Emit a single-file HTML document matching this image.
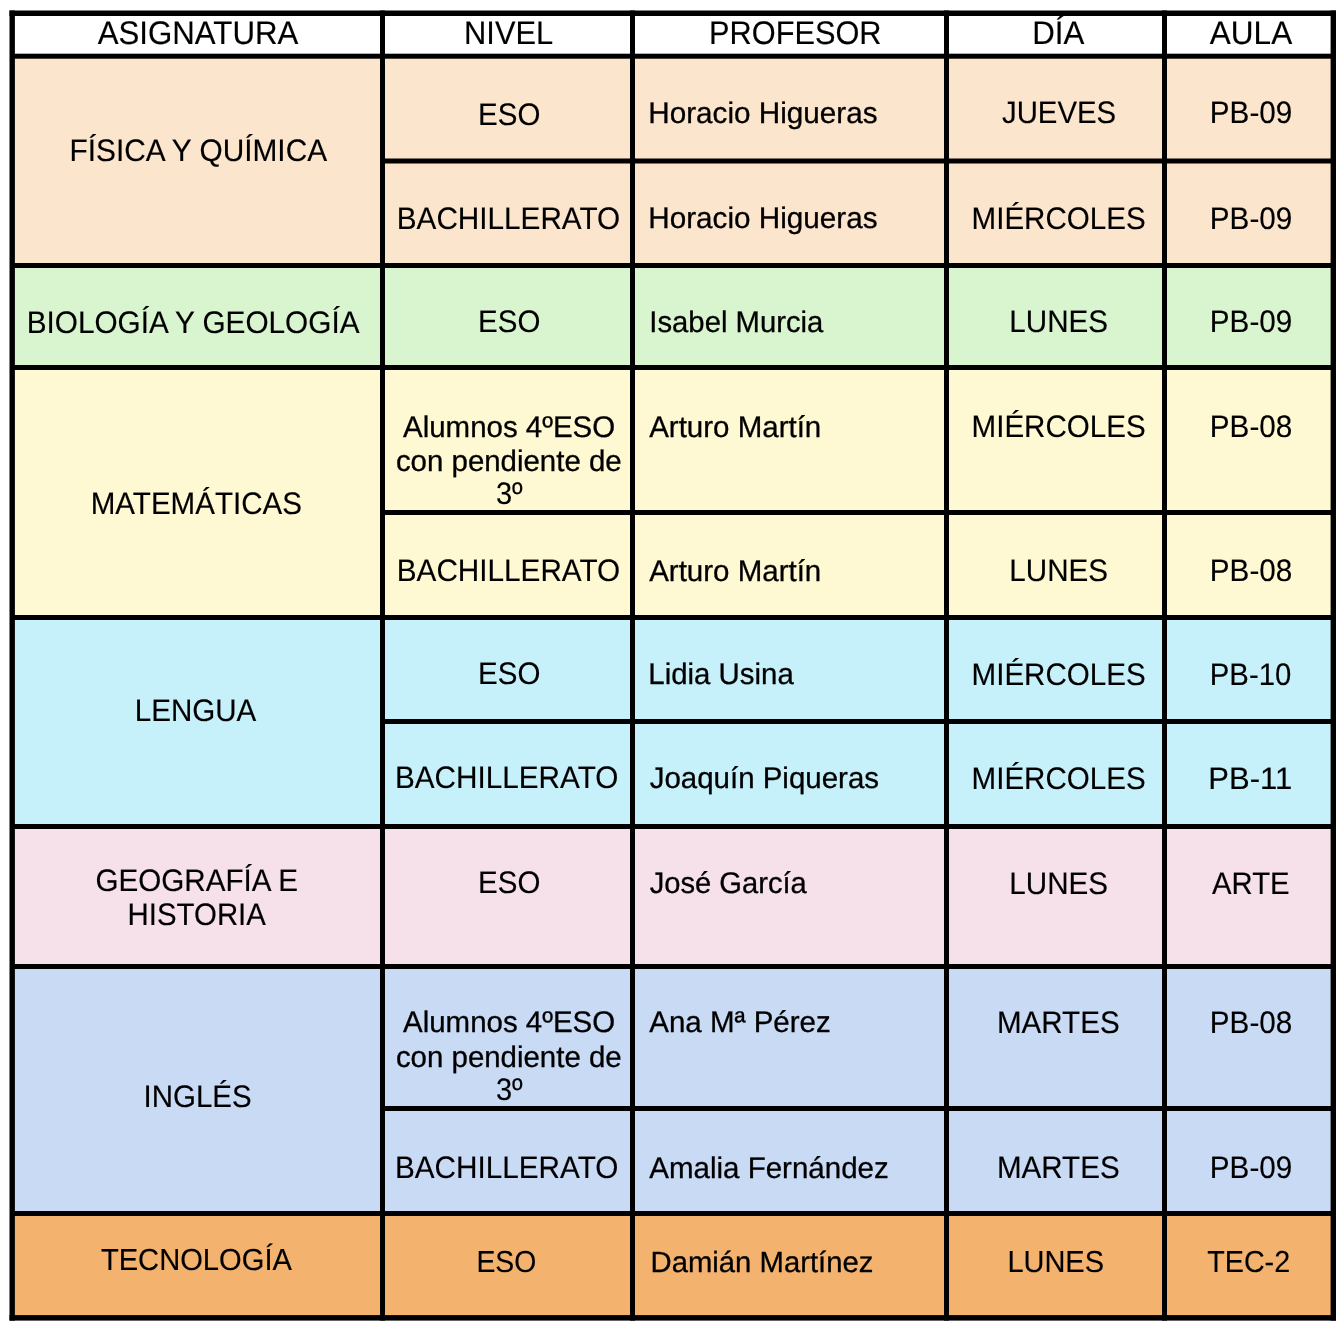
<!DOCTYPE html>
<html lang="es">
<head>
<meta charset="utf-8">
<title>Horario de pendientes</title>
<style>
html,body{margin:0;padding:0;background:#fff;}
body{width:1341px;height:1329px;overflow:hidden;}
svg{display:block;will-change:transform;}
text{font-family:"Liberation Sans",Arial,Helvetica,sans-serif;fill:#000;stroke:#000;text-rendering:geometricPrecision;}
</style>
</head>
<body>
<svg width="1341" height="1329" viewBox="0 0 1341 1329">
<rect x="0" y="0" width="1341" height="1329" fill="#ffffff"/>
<rect x="12" y="56" width="1322" height="209" fill="#fce5cd"/>
<rect x="12" y="265" width="1322" height="102" fill="#d9f5d0"/>
<rect x="12" y="367" width="1322" height="250" fill="#fff9d3"/>
<rect x="12" y="617" width="1322" height="209" fill="#c6f1fb"/>
<rect x="12" y="826" width="1322" height="140" fill="#f6e1ea"/>
<rect x="12" y="966" width="1322" height="247" fill="#c9daf5"/>
<rect x="12" y="1213" width="1322" height="104" fill="#f4b26f"/>
<g fill="#000000">
<rect x="9.5" y="10.5" width="5.4" height="1310.1"/>
<rect x="1330.6" y="10.5" width="5.4" height="1310.1"/>
<rect x="9.5" y="10.5" width="1326.5" height="5.5"/>
<rect x="9.5" y="1315.1" width="1326.5" height="5.5"/>
<rect x="380" y="10.5" width="5" height="1310.1"/>
<rect x="630" y="10.5" width="5" height="1310.1"/>
<rect x="944" y="10.5" width="5" height="1310.1"/>
<rect x="1162" y="10.5" width="5" height="1310.1"/>
<rect x="10" y="53.7" width="1326" height="5"/>
<rect x="380" y="158.5" width="956" height="5"/>
<rect x="10" y="263" width="1326" height="5"/>
<rect x="10" y="365" width="1326" height="5"/>
<rect x="380" y="510" width="956" height="5"/>
<rect x="10" y="615" width="1326" height="5"/>
<rect x="380" y="719" width="956" height="5"/>
<rect x="10" y="824" width="1326" height="5"/>
<rect x="10" y="964" width="1326" height="5"/>
<rect x="380" y="1106" width="956" height="5"/>
<rect x="10" y="1211" width="1326" height="5"/>
</g>
<text x="97.70" y="43.5" font-size="32.7" stroke-width="0.15" textLength="200.61" lengthAdjust="spacingAndGlyphs">ASIGNATURA</text>
<text x="464.11" y="43.5" font-size="32.7" stroke-width="0.15" textLength="89.05" lengthAdjust="spacingAndGlyphs">NIVEL</text>
<text x="709.12" y="43.5" font-size="32.7" stroke-width="0.15" textLength="172.45" lengthAdjust="spacingAndGlyphs">PROFESOR</text>
<text x="1032.29" y="43.5" font-size="32.7" stroke-width="0.15" textLength="52.12" lengthAdjust="spacingAndGlyphs">DÍA</text>
<text x="1209.80" y="43.5" font-size="32.7" stroke-width="0.15" textLength="82.41" lengthAdjust="spacingAndGlyphs">AULA</text>
<text x="478.10" y="124.9" font-size="31.03" stroke-width="0.15" textLength="62.27" lengthAdjust="spacingAndGlyphs">ESO</text>
<text x="648.31" y="122.5" font-size="29.85" stroke-width="0.3" textLength="229.20" lengthAdjust="spacingAndGlyphs">Horacio Higueras</text>
<text x="1002.00" y="122.9" font-size="31.03" stroke-width="0.15" textLength="114.05" lengthAdjust="spacingAndGlyphs">JUEVES</text>
<text x="1209.79" y="122.9" font-size="31.03" stroke-width="0.15" textLength="82.51" lengthAdjust="spacingAndGlyphs">PB-09</text>
<text x="396.78" y="228.6" font-size="31.03" stroke-width="0.15" textLength="223.39" lengthAdjust="spacingAndGlyphs">BACHILLERATO</text>
<text x="648.31" y="228.2" font-size="29.85" stroke-width="0.3" textLength="229.20" lengthAdjust="spacingAndGlyphs">Horacio Higueras</text>
<text x="971.59" y="228.6" font-size="31.03" stroke-width="0.15" textLength="174.06" lengthAdjust="spacingAndGlyphs">MIÉRCOLES</text>
<text x="1209.79" y="228.6" font-size="31.03" stroke-width="0.15" textLength="82.51" lengthAdjust="spacingAndGlyphs">PB-09</text>
<text x="478.10" y="332.2" font-size="31.03" stroke-width="0.15" textLength="62.27" lengthAdjust="spacingAndGlyphs">ESO</text>
<text x="649.34" y="331.6" font-size="29.85" stroke-width="0.3" textLength="174.07" lengthAdjust="spacingAndGlyphs">Isabel Murcia</text>
<text x="1009.29" y="332.4" font-size="31.03" stroke-width="0.15" textLength="98.77" lengthAdjust="spacingAndGlyphs">LUNES</text>
<text x="1209.79" y="332.4" font-size="31.03" stroke-width="0.15" textLength="82.51" lengthAdjust="spacingAndGlyphs">PB-09</text>
<text x="403.00" y="436.6" font-size="29.85" stroke-width="0.3" textLength="212.20" lengthAdjust="spacingAndGlyphs">Alumnos 4ºESO</text>
<text x="395.91" y="470.5" font-size="29.85" stroke-width="0.3" textLength="225.78" lengthAdjust="spacingAndGlyphs">con pendiente de</text>
<text x="495.96" y="504.3" font-size="31.03" stroke-width="0.15" textLength="26.74" lengthAdjust="spacingAndGlyphs">3º</text>
<text x="649.20" y="436.8" font-size="29.85" stroke-width="0.3" textLength="172.08" lengthAdjust="spacingAndGlyphs">Arturo Martín</text>
<text x="971.59" y="436.7" font-size="31.03" stroke-width="0.15" textLength="174.06" lengthAdjust="spacingAndGlyphs">MIÉRCOLES</text>
<text x="1209.79" y="436.7" font-size="31.03" stroke-width="0.15" textLength="82.51" lengthAdjust="spacingAndGlyphs">PB-08</text>
<text x="396.78" y="580.8" font-size="31.03" stroke-width="0.15" textLength="223.39" lengthAdjust="spacingAndGlyphs">BACHILLERATO</text>
<text x="649.20" y="580.7" font-size="29.85" stroke-width="0.3" textLength="172.08" lengthAdjust="spacingAndGlyphs">Arturo Martín</text>
<text x="1009.29" y="581" font-size="31.03" stroke-width="0.15" textLength="98.77" lengthAdjust="spacingAndGlyphs">LUNES</text>
<text x="1209.79" y="581" font-size="31.03" stroke-width="0.15" textLength="82.51" lengthAdjust="spacingAndGlyphs">PB-08</text>
<text x="478.10" y="684.4" font-size="31.03" stroke-width="0.15" textLength="62.27" lengthAdjust="spacingAndGlyphs">ESO</text>
<text x="648.33" y="684.4" font-size="29.85" stroke-width="0.3" textLength="145.47" lengthAdjust="spacingAndGlyphs">Lidia Usina</text>
<text x="971.59" y="684.5" font-size="31.03" stroke-width="0.15" textLength="174.06" lengthAdjust="spacingAndGlyphs">MIÉRCOLES</text>
<text x="1209.81" y="684.5" font-size="31.03" stroke-width="0.15" textLength="81.53" lengthAdjust="spacingAndGlyphs">PB-10</text>
<text x="394.88" y="788.3" font-size="31.03" stroke-width="0.15" textLength="223.49" lengthAdjust="spacingAndGlyphs">BACHILLERATO</text>
<text x="649.70" y="788.3" font-size="29.85" stroke-width="0.3" textLength="229.31" lengthAdjust="spacingAndGlyphs">Joaquín Piqueras</text>
<text x="971.59" y="788.5" font-size="31.03" stroke-width="0.15" textLength="174.06" lengthAdjust="spacingAndGlyphs">MIÉRCOLES</text>
<text x="1208.35" y="788.5" font-size="31.03" stroke-width="0.15">PB-11</text>
<text x="478.10" y="893.4" font-size="31.03" stroke-width="0.15" textLength="62.27" lengthAdjust="spacingAndGlyphs">ESO</text>
<text x="649.70" y="893.3" font-size="29.85" stroke-width="0.3" textLength="157.11" lengthAdjust="spacingAndGlyphs">José García</text>
<text x="1009.29" y="893.5" font-size="31.03" stroke-width="0.15" textLength="98.77" lengthAdjust="spacingAndGlyphs">LUNES</text>
<text x="1212.00" y="893.5" font-size="31.03" stroke-width="0.15" textLength="77.65" lengthAdjust="spacingAndGlyphs">ARTE</text>
<text x="403.00" y="1032.3" font-size="29.85" stroke-width="0.3" textLength="212.20" lengthAdjust="spacingAndGlyphs">Alumnos 4ºESO</text>
<text x="395.91" y="1067" font-size="29.85" stroke-width="0.3" textLength="225.78" lengthAdjust="spacingAndGlyphs">con pendiente de</text>
<text x="495.96" y="1100.3" font-size="31.03" stroke-width="0.15" textLength="26.74" lengthAdjust="spacingAndGlyphs">3º</text>
<text x="649.20" y="1032.4" font-size="29.85" stroke-width="0.3" textLength="181.61" lengthAdjust="spacingAndGlyphs">Ana Mª Pérez</text>
<text x="996.89" y="1032.6" font-size="31.03" stroke-width="0.15" textLength="122.76" lengthAdjust="spacingAndGlyphs">MARTES</text>
<text x="1209.79" y="1032.6" font-size="31.03" stroke-width="0.15" textLength="82.51" lengthAdjust="spacingAndGlyphs">PB-08</text>
<text x="394.88" y="1177.7" font-size="31.03" stroke-width="0.15" textLength="223.49" lengthAdjust="spacingAndGlyphs">BACHILLERATO</text>
<text x="649.20" y="1177.6" font-size="29.85" stroke-width="0.3" textLength="239.61" lengthAdjust="spacingAndGlyphs">Amalia Fernández</text>
<text x="996.89" y="1177.8" font-size="31.03" stroke-width="0.15" textLength="122.76" lengthAdjust="spacingAndGlyphs">MARTES</text>
<text x="1209.79" y="1177.8" font-size="31.03" stroke-width="0.15" textLength="82.51" lengthAdjust="spacingAndGlyphs">PB-09</text>
<text x="476.44" y="1271.7" font-size="30.45" stroke-width="0.15" textLength="59.89" lengthAdjust="spacingAndGlyphs">ESO</text>
<text x="650.60" y="1271.8" font-size="29.25" stroke-width="0.3">Damián Martínez</text>
<text x="1007.40" y="1271.5" font-size="30.45" stroke-width="0.15" textLength="96.64" lengthAdjust="spacingAndGlyphs">LUNES</text>
<text x="1207.20" y="1271.5" font-size="30.45" stroke-width="0.15" textLength="82.98" lengthAdjust="spacingAndGlyphs">TEC-2</text>
<text x="69.60" y="161.1" font-size="31.03" stroke-width="0.15" textLength="257.51" lengthAdjust="spacingAndGlyphs">FÍSICA Y QUÍMICA</text>
<text x="26.70" y="332.6" font-size="31.03" stroke-width="0.15" textLength="332.80" lengthAdjust="spacingAndGlyphs">BIOLOGÍA Y GEOLOGÍA</text>
<text x="90.69" y="514" font-size="31.03" stroke-width="0.15" textLength="211.36" lengthAdjust="spacingAndGlyphs">MATEMÁTICAS</text>
<text x="134.79" y="720.7" font-size="31.03" stroke-width="0.15" textLength="121.51" lengthAdjust="spacingAndGlyphs">LENGUA</text>
<text x="95.45" y="890.8" font-size="31.03" stroke-width="0.15" textLength="202.50" lengthAdjust="spacingAndGlyphs">GEOGRAFÍA E</text>
<text x="127.60" y="925" font-size="31.03" stroke-width="0.15" textLength="138.30" lengthAdjust="spacingAndGlyphs">HISTORIA</text>
<text x="143.50" y="1106.8" font-size="31.03" stroke-width="0.15" textLength="108.15" lengthAdjust="spacingAndGlyphs">INGLÉS</text>
<text x="100.90" y="1270.4" font-size="30.45" stroke-width="0.15" textLength="191.03" lengthAdjust="spacingAndGlyphs">TECNOLOGÍA</text>
</svg>
</body>
</html>
